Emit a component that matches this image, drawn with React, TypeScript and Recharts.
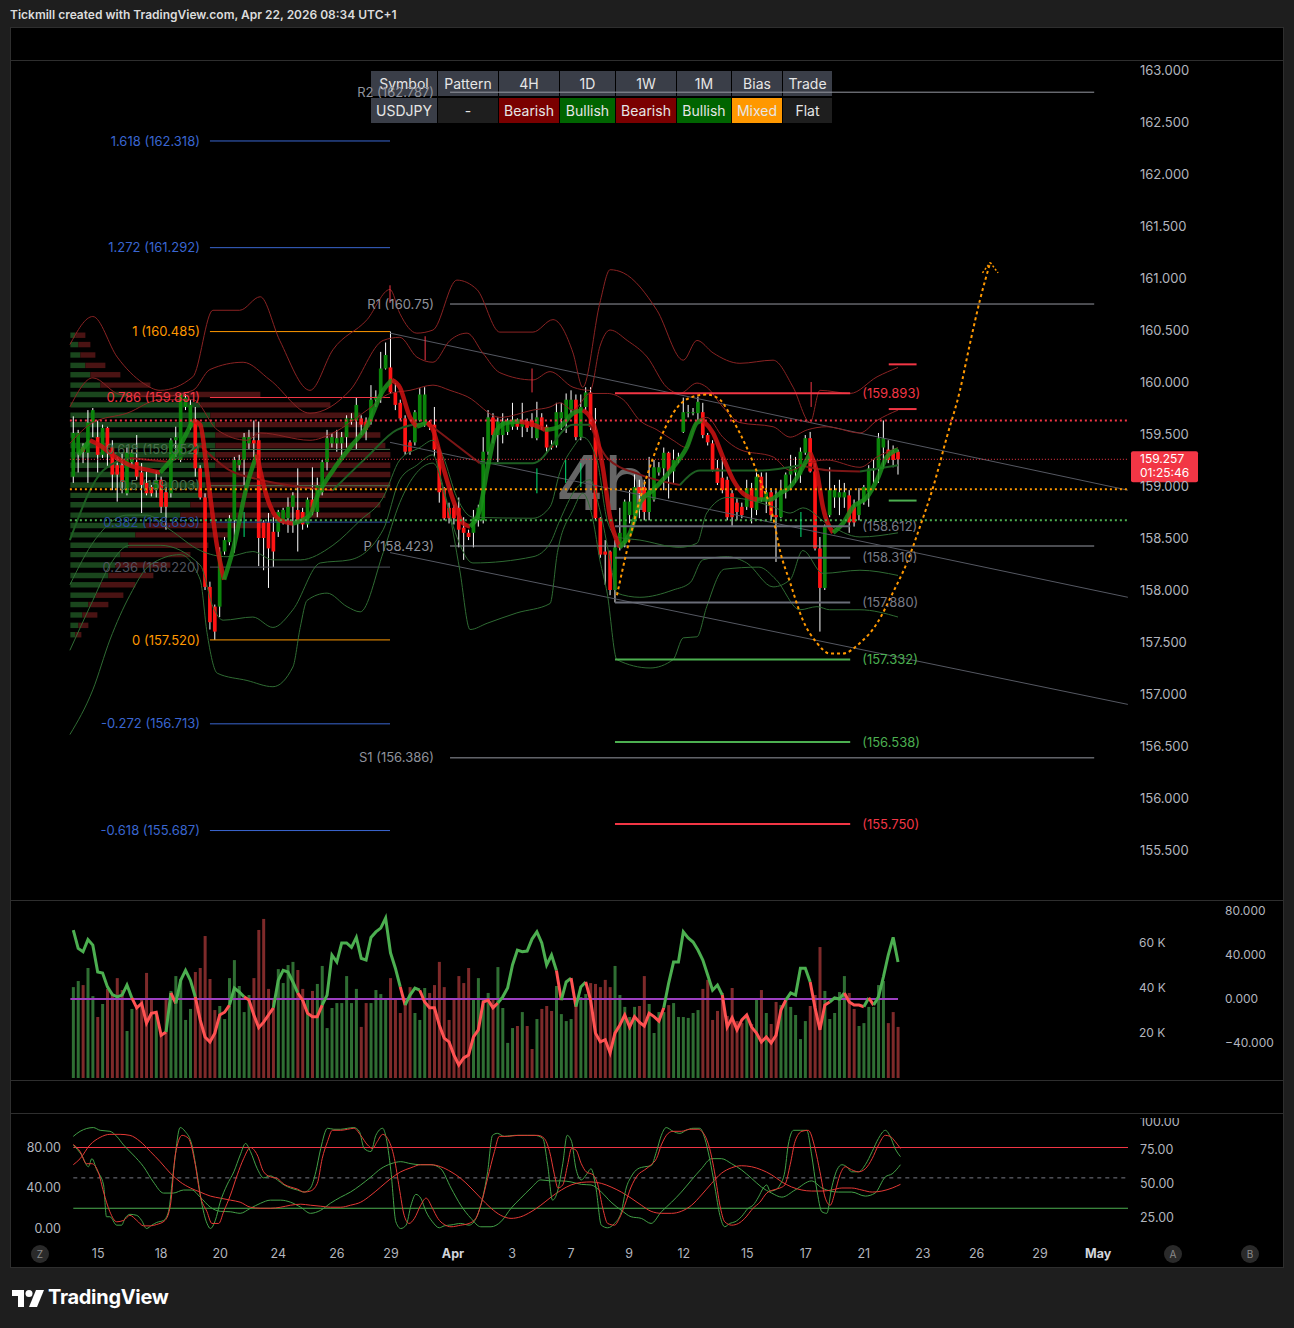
import React from 'react';
import {
  ComposedChart,
  Bar,
  Line,
  XAxis,
  YAxis,
  ReferenceLine,
  ReferenceArea,
  ReferenceDot,
  Cell,
} from 'recharts';

// USDJPY 4h candles, oldest first (13 Mar -> 22 Apr 2026)
const opens = [
  159.09, 159.32, 159.37, 159.32, 159.61, 159.47, 159.30, 159.56, 159.37, 159.20,
  159.20, 158.93, 159.23, 159.23, 159.13, 159.03, 158.99, 158.96, 159.06, 158.94,
  158.93, 159.44, 159.25, 159.76, 159.56, 159.63, 159.17, 158.89, 158.03, 157.84,
  157.84, 158.37, 158.46, 158.67, 159.20, 159.25, 159.41, 159.44, 159.44, 158.65,
  158.65, 158.56, 158.56, 158.65, 158.69, 158.80, 158.77, 158.75, 158.63, 158.87,
  158.75, 158.94, 159.23, 159.41, 159.41, 159.41, 159.47, 159.62, 159.63, 159.65,
  159.62, 159.62, 159.83, 159.86, 160.13, 160.14, 159.90, 159.80, 159.65, 159.42,
  159.42, 159.63, 159.59, 159.62, 159.59, 159.35, 158.98, 158.79, 158.79, 158.79,
  158.60, 158.55, 158.55, 158.67, 158.67, 159.33, 159.66, 159.49, 159.49, 159.52,
  159.57, 159.62, 159.57, 159.62, 159.63, 159.46, 159.66, 159.57, 159.39, 159.39,
  159.65, 159.65, 159.73, 159.83, 159.47, 159.76, 159.90, 159.54, 158.69, 158.37,
  158.37, 158.00, 158.41, 158.45, 158.72, 158.72, 158.99, 158.99, 158.75, 158.87,
  159.13, 159.17, 159.32, 159.14, 159.25, 159.52, 159.70, 159.70, 159.70, 159.71,
  159.49, 159.41, 159.17, 159.08, 159.06, 158.93, 158.84, 158.80, 158.80, 158.98,
  158.77, 159.09, 158.87, 158.94, 158.72, 158.70, 158.96, 159.11, 159.13, 159.11,
  159.32, 159.46, 159.14, 158.40, 158.02, 158.72, 158.89, 158.89, 158.89, 158.91,
  158.80, 158.72, 158.85, 158.94, 159.15, 159.17, 159.37, 159.35, 159.33, 159.33,
];
const highs = [
  159.67, 159.54, 159.41, 159.73, 159.75, 159.63, 159.59, 159.57, 159.44, 159.28,
  159.32, 159.37, 159.35, 159.49, 159.22, 159.14, 159.01, 159.14, 159.09, 158.99,
  159.46, 159.57, 159.89, 159.88, 159.83, 159.76, 159.20, 158.93, 158.08, 157.86,
  158.41, 158.51, 158.72, 159.28, 159.30, 159.51, 159.54, 159.63, 159.62, 158.67,
  158.74, 158.70, 158.77, 158.79, 158.89, 158.94, 159.17, 158.79, 158.89, 159.18,
  159.08, 159.25, 159.54, 159.51, 159.54, 159.52, 159.68, 159.70, 159.85, 159.68,
  159.66, 159.97, 159.92, 160.29, 160.38, 160.485, 159.99, 159.83, 159.68, 159.44,
  159.73, 159.94, 159.95, 159.63, 159.76, 159.37, 158.99, 158.84, 158.82, 158.89,
  158.70, 158.58, 158.77, 158.82, 159.47, 159.73, 159.70, 159.66, 159.70, 159.65,
  159.80, 159.65, 159.80, 159.65, 159.70, 159.81, 159.70, 159.59, 159.44, 159.80,
  159.80, 159.89, 159.92, 159.88, 159.88, 159.95, 159.95, 159.75, 158.70, 158.48,
  158.38, 158.48, 158.79, 158.87, 158.96, 159.11, 159.06, 159.06, 159.28, 159.25,
  159.23, 159.37, 159.33, 159.35, 159.32, 159.85, 159.78, 159.75, 159.86, 159.80,
  159.51, 159.44, 159.25, 159.28, 159.09, 158.96, 158.88, 158.84, 159.06, 159.03,
  159.13, 159.13, 159.13, 158.98, 158.96, 159.06, 159.13, 159.30, 159.28, 159.37,
  159.49, 159.52, 159.22, 158.51, 158.63, 159.18, 159.01, 159.06, 159.03, 158.96,
  158.87, 158.98, 159.01, 159.20, 159.25, 159.51, 159.63, 159.44, 159.39, 159.35,
];
const lows = [
  159.03, 159.13, 159.22, 159.03, 159.47, 159.13, 159.27, 159.18, 158.96, 158.85,
  158.93, 158.91, 159.20, 159.06, 158.74, 158.91, 158.90, 158.89, 158.74, 158.58,
  158.89, 159.28, 159.23, 159.73, 159.54, 159.09, 158.87, 158.00, 157.62, 157.52,
  157.74, 158.34, 158.43, 158.36, 159.15, 159.01, 159.35, 159.28, 158.23, 158.19,
  158.02, 158.22, 158.51, 158.63, 158.55, 158.55, 158.37, 158.58, 158.60, 158.72,
  158.70, 158.91, 159.15, 159.37, 159.33, 159.28, 159.37, 159.59, 159.35, 159.49,
  159.44, 159.59, 159.76, 159.80, 160.12, 159.89, 159.73, 159.63, 159.30, 159.30,
  159.39, 159.62, 159.57, 159.54, 159.28, 158.84, 158.67, 158.64, 158.63, 158.41,
  158.29, 158.48, 158.41, 158.61, 158.64, 159.30, 159.41, 159.23, 159.41, 159.49,
  159.54, 159.54, 159.47, 159.52, 159.46, 159.44, 159.54, 159.32, 159.35, 159.37,
  159.54, 159.51, 159.70, 159.44, 159.44, 159.73, 159.54, 158.67, 158.31, 158.05,
  157.95, 157.88, 158.38, 158.41, 158.64, 158.64, 158.69, 158.67, 158.67, 158.85,
  159.10, 158.96, 158.88, 159.03, 159.22, 159.51, 159.66, 159.68, 159.63, 159.46,
  159.39, 159.14, 159.01, 158.93, 158.67, 158.61, 158.67, 158.69, 158.77, 158.64,
  158.72, 158.85, 158.74, 158.67, 158.27, 158.69, 158.88, 158.96, 159.03, 159.03,
  159.30, 159.13, 158.38, 157.60, 158.00, 158.70, 158.79, 158.72, 158.79, 158.55,
  158.61, 158.67, 158.82, 158.80, 159.03, 159.03, 159.17, 159.22, 159.18, 159.11,
];
const closes = [
  159.51, 159.51, 159.33, 159.61, 159.73, 159.30, 159.56, 159.37, 159.11, 159.11,
  159.04, 159.32, 159.32, 159.09, 159.01, 158.93, 158.93, 159.06, 158.80, 158.80,
  159.44, 159.47, 159.88, 159.85, 159.78, 159.17, 158.89, 158.03, 157.69, 157.60,
  158.37, 158.48, 158.69, 159.25, 159.25, 159.47, 159.47, 159.41, 158.50, 158.50,
  158.40, 158.37, 158.75, 158.77, 158.80, 158.91, 158.64, 158.63, 158.87, 158.75,
  159.01, 159.23, 159.46, 159.47, 159.46, 159.47, 159.65, 159.65, 159.78, 159.59,
  159.54, 159.83, 159.86, 160.13, 160.26, 159.90, 159.78, 159.65, 159.33, 159.33,
  159.71, 159.88, 159.88, 159.57, 159.35, 158.94, 158.69, 158.69, 158.69, 158.58,
  158.55, 158.51, 158.69, 158.79, 159.33, 159.66, 159.49, 159.62, 159.62, 159.62,
  159.62, 159.57, 159.62, 159.56, 159.57, 159.66, 159.57, 159.37, 159.37, 159.71,
  159.71, 159.83, 159.83, 159.47, 159.76, 159.90, 159.57, 158.69, 158.34, 158.34,
  158.00, 158.41, 158.55, 158.85, 158.85, 158.99, 158.93, 158.75, 158.96, 159.18,
  159.18, 159.32, 159.14, 159.25, 159.28, 159.71, 159.71, 159.71, 159.81, 159.49,
  159.42, 159.15, 159.03, 158.96, 158.70, 158.70, 158.75, 158.72, 158.98, 158.79,
  159.09, 158.87, 158.94, 158.72, 158.70, 158.96, 159.11, 159.17, 159.17, 159.33,
  159.46, 159.14, 158.40, 158.02, 158.61, 158.96, 158.96, 158.94, 158.94, 158.65,
  158.65, 158.85, 158.99, 159.17, 159.17, 159.46, 159.46, 159.25, 159.25, 159.257,
];

// volume per candle, thousands
const volumesK = [
  40.4, 43.1, 41.3, 48.9, 36.4, 27.1, 32.9, 39.6, 36.9, 44.4,
  39.1, 20.9, 30.7, 31.6, 35.1, 46.7, 34.7, 28.9, 20.0, 34.7,
  38.7, 45.3, 44.0, 25.8, 30.7, 47.1, 48.9, 63.1, 44.0, 30.2,
  32.0, 26.2, 44.4, 52.4, 40.9, 29.3, 36.9, 44.4, 65.8, 70.7,
  39.6, 34.7, 48.4, 42.2, 50.2, 51.6, 48.0, 39.6, 35.1, 38.7,
  41.8, 49.8, 22.2, 31.1, 33.3, 33.3, 45.3, 33.3, 39.6, 22.7,
  33.3, 33.3, 39.1, 37.3, 34.7, 44.4, 34.7, 28.9, 33.8, 40.4,
  28.9, 25.8, 40.0, 37.8, 41.3, 51.6, 40.4, 25.8, 35.1, 45.3,
  42.2, 48.9, 34.7, 44.4, 34.7, 37.8, 34.7, 49.3, 31.1, 15.6,
  22.2, 23.1, 29.3, 23.1, 12.9, 26.2, 30.7, 32.0, 29.8, 40.9,
  28.4, 25.3, 26.2, 31.6, 36.0, 37.3, 42.2, 41.8, 40.4, 43.6,
  40.4, 49.8, 36.9, 31.6, 27.1, 31.6, 32.0, 45.3, 32.9, 20.0,
  29.3, 29.3, 32.4, 33.3, 27.1, 27.1, 26.7, 28.9, 30.2, 39.6,
  43.6, 25.8, 29.8, 37.8, 27.6, 40.0, 25.3, 24.4, 27.6, 24.0,
  35.1, 39.1, 28.9, 24.0, 33.8, 32.4, 35.6, 31.6, 28.0, 17.3,
  25.3, 32.0, 36.9, 58.2, 38.7, 26.2, 28.9, 38.2, 45.3, 37.8,
  30.7, 23.1, 24.4, 31.6, 31.6, 41.3, 43.1, 24.4, 29.3, 22.7,
];

// oscillator drawn over the volume pane
const oscValues = [
  62.7, 46, 43, 54, 49, 24.5, 23.6, 11, 4, 2,
  3.6, 12.7, 1, -8, -4, -22, -13, -12, -33, -30,
  5.5, -4, 17, 26, 17, 2, -19, -34.5, -39, -31,
  -14.5, -12, -5.5, 10, 6.4, 2, -1, -14.5, -26, -21,
  -14.5, -8, 17, 26, 24.5, 15.5, 5.5, -1, -13, -16,
  -16, -5.5, 3.6, 40, 33.6, 51, 51, 47, 56, 37,
  35.5, 56, 61, 64.5, 73.6, 42, 28, 11, -5.5, 3.6,
  10, 8, -2.7, -8, -8, -23.6, -35.5, -39, -51, -60,
  -53.6, -51, -34.5, -28, -2.7, -1, -8, -3.6, 2, 10,
  31, 44.5, 43, 43.6, 54.5, 61, 51, 31, 40, 26,
  -1, 15.5, 19, -7, 11, 15.5, -1, -31, -39, -37,
  -49, -31, -23.6, -14.5, -25.5, -16, -21, -24.5, -13, -16,
  -20, -8, 14.5, 33.6, 33.6, 61, 55.5, 51.8, 44.5, 35.5,
  21.8, 8, 12.7, 3.6, -25.5, -17, -28, -19, -14.5, -25.5,
  -31, -39, -34.5, -40, -33, -10, -1, 5.5, 3.6, 28,
  28, 15.5, -8, -28, -5.5, -2.7, 1, 0, 5.5, -2.7,
  -5.5, -5.5, -7, 1, -5.5, 2, 20, 40, 56, 33.6,
];

// overlays: [candle index, price]
const maPoints = [
  [1.0, 159.30], [3.4, 159.44], [5.5, 159.39], [8.6, 159.28], [11.6, 159.20], [15.7, 159.15],
  [17.8, 159.13], [20.8, 159.30], [24.5, 159.63], [26.0, 159.59], [27.6, 159.06], [29.5, 158.41],
  [30.9, 158.10], [32.7, 158.38], [35.6, 159.01], [37.6, 159.30], [39.7, 158.89], [42.4, 158.67],
  [45.0, 158.64], [48.5, 158.72], [49.9, 158.89], [53.2, 159.15], [56.7, 159.37], [60.1, 159.57],
  [63.5, 159.92], [65.3, 160.02], [66.9, 159.95], [69.0, 159.66], [70.4, 159.57], [72.5, 159.61],
  [73.7, 159.54], [75.8, 159.18], [77.8, 158.87], [79.9, 158.64], [81.3, 158.61], [83.3, 158.77],
  [84.8, 159.15], [86.8, 159.54], [88.9, 159.61], [91.5, 159.62], [94.2, 159.59], [96.7, 159.54],
  [99.7, 159.57], [102.4, 159.70], [104.4, 159.73], [106.5, 159.61], [108.5, 159.18], [110.0, 158.70],
  [112.0, 158.41], [114.1, 158.55], [116.1, 158.84], [118.8, 158.96], [120.8, 159.06], [122.9, 159.18],
  [125.7, 159.37], [127.8, 159.61], [129.0, 159.63], [131.1, 159.51], [133.1, 159.28], [135.2, 159.06],
  [137.2, 158.93], [140.1, 158.87], [142.8, 158.87], [144.8, 158.93], [146.9, 158.99], [149.5, 159.18],
  [151.0, 159.32], [152.4, 159.13], [153.6, 158.80], [155.7, 158.55], [157.7, 158.64], [159.8, 158.80],
  [162.6, 158.89], [164.7, 159.06], [166.7, 159.28], [169.0, 159.35],
];
const basisPoints = [
  [-0.7, 158.48], [6.1, 159.15], [11.6, 159.27], [19.8, 159.23], [26.0, 159.39], [32.1, 159.15],
  [38.3, 159.06], [46.5, 158.99], [53.2, 158.96], [60.2, 159.28], [66.3, 159.54], [72.5, 159.61],
  [77.2, 159.44], [83.3, 159.22], [94.2, 159.22], [102.4, 159.59], [105.9, 159.59], [109.4, 159.27],
  [116.1, 159.11], [124.3, 159.01], [128.4, 159.15], [134.6, 159.15], [140.7, 159.15], [148.9, 159.20],
  [155.0, 159.15], [161.2, 159.14], [169.0, 159.20],
];
const upperBand3 = [
  [-0.7, 160.36], [4.0, 160.63], [9.0, 160.24], [14.3, 159.99], [17.8, 159.92], [24.5, 160.05],
  [28.6, 160.69], [34.1, 160.69], [38.3, 160.82], [42.3, 160.40], [48.5, 159.92], [53.2, 160.31],
  [60.2, 160.60], [64.9, 160.89], [66.9, 160.66], [70.4, 160.47], [73.7, 160.50], [78.6, 160.98],
  [82.7, 160.89], [87.4, 160.48], [94.2, 160.48], [98.3, 160.60], [102.4, 160.28], [104.4, 159.95],
  [107.9, 160.76], [110.0, 161.08], [112.7, 161.05], [119.6, 160.69], [125.0, 160.21], [127.8, 160.40],
  [131.1, 160.28], [136.6, 160.18], [143.4, 160.21], [147.5, 159.95], [151.0, 159.61], [153.0, 159.92],
  [159.2, 159.89], [164.7, 160.05], [169.0, 160.14],
];
const upperBand2 = [
  [-0.7, 159.76], [4.0, 160.04], [9.6, 159.88], [17.8, 159.86], [24.5, 159.92], [28.0, 160.12],
  [34.8, 160.19], [40.3, 160.02], [48.5, 159.70], [56.7, 159.92], [63.5, 160.40], [66.9, 160.43],
  [70.4, 160.24], [73.7, 160.19], [77.2, 160.40], [80.7, 160.47], [83.9, 160.28], [87.4, 160.09],
  [94.2, 160.02], [97.7, 160.10], [102.4, 159.95], [105.9, 159.92], [107.9, 160.34], [110.0, 160.50],
  [113.5, 160.40], [117.6, 160.24], [121.6, 159.95], [124.3, 159.89], [127.8, 159.99], [129.8, 159.95],
  [133.1, 159.76], [136.6, 159.61], [143.4, 159.57], [146.9, 159.47], [150.4, 159.54], [154.4, 159.57],
  [161.2, 159.51], [164.7, 159.63], [169.0, 159.73],
];
const upperBand1 = [
  [-0.7, 159.41], [4.0, 159.61], [11.0, 159.70], [17.8, 159.83], [24.5, 159.83], [29.5, 159.54],
  [35.6, 159.44], [38.3, 159.51], [48.5, 159.44], [53.2, 159.51], [60.2, 159.73], [64.9, 159.89],
  [69.0, 159.92], [73.7, 159.97], [77.2, 159.92], [80.7, 159.86], [87.4, 159.66], [94.2, 159.73],
  [97.7, 159.76], [99.7, 159.80], [102.4, 159.73], [105.9, 159.89], [109.4, 159.89], [112.7, 159.83],
  [116.1, 159.63], [119.6, 159.54], [122.9, 159.44], [125.7, 159.37], [127.8, 159.63], [129.8, 159.66],
  [133.1, 159.47], [136.6, 159.35], [143.4, 159.28], [146.9, 159.15], [150.4, 159.22], [154.4, 159.25],
  [161.2, 159.18], [164.7, 159.28], [169.0, 159.37],
];
const lowerBand1 = [
  [-0.7, 158.05], [4.4, 158.48], [11.0, 158.72], [15.1, 158.72], [19.8, 158.58], [26.0, 158.38],
  [31.5, 158.32], [36.8, 158.37], [40.9, 158.29], [46.5, 158.29], [53.2, 158.43], [58.8, 158.67],
  [63.5, 158.89], [66.9, 159.25], [71.0, 159.37], [73.7, 159.44], [75.8, 159.28], [78.6, 158.89],
  [81.9, 158.70], [94.2, 158.69], [97.7, 158.80], [99.7, 159.13], [102.4, 159.37], [104.4, 159.47],
  [107.3, 159.25], [109.4, 158.67], [111.4, 158.51], [116.1, 158.48], [124.3, 158.41], [127.8, 158.45],
  [129.8, 158.74], [134.0, 158.89], [138.0, 158.87], [143.4, 158.80], [146.9, 158.74], [149.5, 158.79],
  [154.4, 158.64], [161.2, 158.51], [169.0, 158.55],
];
const lowerBand2 = [
  [-0.7, 157.42], [4.0, 157.90], [7.5, 158.24], [11.6, 158.43], [17.8, 158.43], [26.0, 158.24],
  [28.6, 157.84], [30.7, 157.71], [36.8, 157.74], [40.9, 157.64], [45.0, 157.81], [50.6, 158.26],
  [56.7, 158.29], [63.5, 158.58], [66.9, 159.06], [70.4, 159.20], [73.7, 159.30], [75.8, 158.96],
  [78.6, 158.51], [81.9, 158.26], [94.2, 158.32], [97.7, 158.45], [99.7, 158.67], [102.8, 158.96],
  [105.9, 159.06], [107.9, 158.77], [110.0, 158.29], [111.4, 157.97], [116.1, 157.93], [122.9, 158.00],
  [126.4, 158.07], [129.0, 158.29], [134.0, 158.32], [138.0, 158.26], [143.4, 158.03], [146.9, 158.10],
  [149.5, 158.38], [153.6, 158.16], [161.2, 158.19], [169.0, 158.14],
];
const lowerBand3 = [
  [-0.7, 156.61], [4.0, 157.04], [7.5, 157.52], [11.6, 157.95], [15.7, 158.24], [21.9, 158.34],
  [26.0, 158.10], [27.4, 157.59], [29.5, 157.20], [35.6, 157.13], [40.9, 157.07], [45.0, 157.26],
  [46.5, 157.64], [47.9, 157.90], [52.0, 157.97], [56.1, 157.84], [58.8, 157.79], [63.5, 158.36],
  [66.9, 158.84], [70.4, 159.13], [73.7, 159.22], [76.6, 158.84], [79.2, 158.19], [81.3, 157.62],
  [84.8, 157.68], [90.9, 157.78], [97.7, 157.87], [99.2, 158.36], [102.4, 158.77], [104.4, 158.93],
  [106.5, 158.67], [107.9, 158.29], [109.4, 157.97], [111.4, 157.33], [118.2, 157.25], [122.9, 157.33],
  [125.0, 157.54], [127.8, 157.55], [129.8, 157.84], [133.4, 158.20], [140.5, 158.22], [144.0, 158.10],
  [148.9, 157.81], [152.4, 157.84], [155.0, 157.81], [161.2, 157.81], [169.0, 157.74],
];
const projectionPath = [
  [111.4, 157.95], [113.7, 158.43], [116.1, 158.87], [119.6, 159.37], [122.9, 159.70], [126.4, 159.85],
  [129.8, 159.88], [132.5, 159.83], [135.2, 159.63], [138.0, 159.37], [140.7, 159.06], [143.4, 158.70],
  [144.8, 158.38], [146.9, 158.07], [149.5, 157.71], [152.4, 157.49], [155.0, 157.39], [157.7, 157.39],
  [161.2, 157.49], [164.7, 157.68], [167.9, 157.97], [170.8, 158.26], [173.5, 158.61], [176.2, 158.99],
  [179.0, 159.47], [181.7, 159.92], [183.7, 160.36], [185.8, 160.79], [187.9, 161.15],
];
const arrowHead = [[186.3, 161.05], [187.9, 161.15], [189.5, 161.05]];
const channelLines = [
  [[64.9, 160.47], [216.1, 158.96]],
  [[64.9, 159.42], [216.1, 157.93]],
  [[64.9, 158.36], [216.1, 156.90]],
];

// fibonacci retracement (anchored 157.520 -> 160.485)
const fibRatios = ['1.618', '1.272', '1', '0.786', '0.618', '0.5', '0.382', '0.236', '0', '-0.272', '-0.618'];
const fibPrices = [162.318, 161.292, 160.485, 159.851, 159.352, 159.003, 158.653, 158.22, 157.52, 156.713, 155.687];
const fibSpan = [28.0, 64.9];
// pivots
const pivotNames = ['R2', 'R1', 'P', 'S1'];
const pivotPrices = [162.787, 160.75, 158.423, 156.386];
const pivotSpan = [77.2, 209.2];
// right hand levels
const levelPrices = [159.893, 158.612, 158.31, 157.88, 157.332, 156.538, 155.75];
const levelSpan = [111.0, 159.2];
const stubPrices = [160.17, 159.74, 158.86];
const stubSpan = [167.1, 172.8];
const dottedPrices = [159.63, 159.257, 158.97, 158.67];
const redMarks = [[64.9, 160.76, 160.93], [72.1, 160.21, 160.44], [94.0, 159.90, 160.13], [151.2, 159.76, 160.0]];
const tealMarks = [[35.0, 158.51, 158.75], [95.0, 158.93, 159.17], [100.9, 159.03, 159.25], [104.0, 158.99, 159.22], [149.1, 158.51, 158.75]];

// volume profile rows (price, buy volume, sell volume)
const profilePrices = [160.45, 160.36, 160.26, 160.16, 160.07, 159.97, 159.88, 159.78, 159.68, 159.59, 159.49, 159.39, 159.30, 159.20, 159.11, 159.01, 158.91, 158.82, 158.72, 158.62, 158.53, 158.43, 158.34, 158.24, 158.14, 158.05, 157.95, 157.86, 157.76, 157.66, 157.57];
const profileBuy = [5, 8, 10, 15, 20, 30, 60, 130, 140, 145, 145, 145, 145, 145, 140, 135, 130, 120, 110, 75, 65, 58, 50, 45, 38, 30, 25, 18, 12, 8, 5];
const profileSell = [10, 12, 15, 20, 30, 50, 130, 130, 150, 155, 165, 170, 175, 175, 180, 185, 185, 190, 190, 120, 95, 80, 70, 55, 45, 35, 28, 20, 15, 10, 6];

// stochastic pane: [candle index, value]
const stochFastK = [
  [0, 82.5], [1.7, 72.6], [3.1, 61], [3.8, 69], [4.8, 58], [6.2, 43], [6.8, 11.6], [7.5, 11.6], [8.9, 3.3], [9.9, 3.3],
  [10.6, 10], [11.6, 14], [13, 13], [14, 8], [15, 0], [16.1, 3.3], [17.1, 6], [18.5, 8], [19.5, 16.5], [20.5, 56],
  [21.9, 99.7], [22.9, 96], [24.3, 82.5], [25.3, 56], [26.4, 23], [27.4, 5], [28.1, 0], [29.1, 8], [30.1, 26], [31.5, 43],
  [32.9, 56], [34.2, 72.6], [35.3, 84], [36.3, 76], [37.7, 59], [39, 50], [40.4, 52], [41.8, 48], [43.2, 43], [44.5, 40],
  [45.9, 38], [47.3, 36], [48.6, 40], [49.7, 56], [50.7, 79], [52.1, 99], [53.4, 98], [54.8, 98], [56.2, 99], [57.5, 99.7],
  [58.6, 96], [59.6, 79], [61, 76], [62, 92], [63.4, 99], [64, 92], [65.1, 56], [66.1, 6.6], [67.1, 0], [68.2, 3.3],
  [69.2, 23], [70.2, 33.7], [71.2, 30], [72.3, 16.5], [73.6, 6.6], [75, 0.7], [76, 2.6], [77.4, 3.5], [79.4, 5], [81.1, 3.3],
  [82.1, 6.6], [83.5, 23], [84.9, 56], [85.9, 92], [86.9, 94], [88.3, 91], [90.4, 92], [92.4, 92], [94.5, 92], [96.2, 89],
  [97.2, 63], [98.2, 28], [99.3, 38], [100.3, 64], [101.2, 92], [102.1, 86], [103, 59], [104.1, 48], [105.1, 53], [106.1, 59],
  [107.1, 40], [108.2, 3.3], [109.5, 0.7], [110.9, 5], [112.3, 16.5], [113.3, 40], [114.3, 51], [115.7, 59], [117.1, 61], [118.4, 62],
  [119.5, 76], [120.5, 92], [121.5, 99.7], [122.9, 96], [124.3, 94], [125.6, 97], [127, 99], [128.4, 99], [129.4, 89], [130.4, 69],
  [131.5, 40], [132.5, 13], [133.5, 1.7], [134.5, 5], [135.6, 6.6], [136.9, 11.6], [138.3, 20], [139.3, 23], [140.4, 31], [141.4, 40],
  [142.1, 43], [142.8, 37], [143.8, 38], [144.8, 43], [145.8, 56], [146.5, 82.5], [147.6, 97], [149, 97], [150.3, 97], [151.3, 72.6],
  [152.3, 40], [153.4, 16.5], [154.4, 15], [155.4, 40], [156.5, 58], [157.5, 63], [158.5, 61], [159.5, 56], [160.9, 56], [162.3, 63],
  [163.7, 76], [165, 89], [166.4, 97], [167.4, 91], [168.4, 79], [169.5, 71],
];
const stochFastD = [
  [0, 83], [1.4, 76], [2.7, 64], [3.8, 64], [5.1, 56], [6.2, 36], [7.5, 16.5], [8.9, 6.6], [10.3, 8], [11.6, 13],
  [13, 8], [14.4, 2.6], [15.8, 2.6], [17.1, 4], [18.8, 8], [19.9, 23], [20.9, 72.6], [22.3, 92], [23.6, 89], [25, 63],
  [26, 33], [27.4, 16.5], [28.4, 5], [29.8, 5], [30.8, 16.5], [32.2, 33], [33.6, 53], [34.9, 69], [36.3, 80], [37.7, 72.6],
  [39, 56], [40.4, 51], [41.8, 49.5], [43.2, 43.6], [44.5, 41], [45.9, 39], [47.3, 36], [48.6, 37], [50, 44.6], [51, 69],
  [52.1, 86], [53.1, 97], [54.8, 97], [56.2, 98], [57.5, 99], [58.9, 92], [60.3, 82.5], [61.3, 79], [62.3, 86], [63.4, 93],
  [64.4, 89], [65.8, 69], [66.8, 40], [67.8, 13], [68.8, 5], [69.9, 10], [71.2, 23], [72.3, 30], [73.6, 20], [74.7, 10],
  [76, 4], [77.4, 1.7], [79.4, 3.3], [81.1, 5], [82.5, 10], [83.5, 23], [84.9, 49.5], [86.3, 76], [87.3, 91], [89, 91],
  [91.1, 92], [93.1, 92], [95.2, 92], [96.5, 89], [97.6, 76], [98.6, 53], [99.3, 40], [100.3, 43], [101.3, 63], [102.1, 79],
  [103, 77.5], [104.1, 64], [105.1, 56], [106.5, 53], [107.5, 43], [108.5, 20], [109.5, 5], [110.9, 3.3], [111.9, 10], [113, 23],
  [114.3, 41], [115.7, 53], [117.1, 58], [118.4, 63], [119.5, 69], [120.5, 82.5], [121.9, 94], [122.9, 96], [124.6, 96], [126.3, 98],
  [128, 98], [129.4, 92], [130.4, 79], [131.5, 53], [132.5, 23], [133.5, 6.6], [134.9, 3.3], [136.3, 5], [137.6, 10], [139.3, 20],
  [140.7, 26], [142.1, 35], [143.4, 38], [144.8, 40], [145.8, 43], [146.9, 63], [147.9, 86], [149.3, 96], [150.6, 97], [152, 79],
  [153, 56], [154.1, 30], [155.1, 23], [156.1, 36], [157.1, 53], [158.2, 61], [159.5, 58], [160.9, 56], [162.3, 59], [163.7, 69],
  [165, 82.5], [166.4, 92], [167.4, 91], [168.4, 86], [169.5, 79],
];
const stochSlowK = [
  [0, 91], [1.4, 96], [4.1, 99.7], [5.5, 97], [7.5, 96], [8.9, 91], [10.3, 82.5], [12.3, 72.6], [14.4, 61], [16.4, 46],
  [18.5, 35], [20.5, 35], [22.6, 38], [24.3, 38], [26, 31], [28.1, 21], [30.1, 17], [32.2, 16.5], [34.2, 15], [36.3, 20],
  [38.4, 25], [40.4, 28], [42.5, 28], [44.5, 26], [46.6, 21], [48.6, 15], [50.7, 18], [52.7, 25], [54.8, 31], [56.8, 36],
  [58.9, 43], [61, 51], [63, 59], [65.1, 64], [67.1, 66], [69.2, 64], [71.2, 63], [73.3, 63], [75.3, 59], [77.4, 40],
  [79.4, 23], [81.5, 10], [83.5, 1.7], [85.6, 1.7], [87.6, 6.6], [89.7, 20], [91.7, 30], [93.8, 40], [95.8, 48], [97.9, 47],
  [100, 47], [102, 46], [104.1, 43.6], [106.1, 43], [108.2, 36], [110.2, 26], [112.3, 18], [114.3, 11.6], [116.4, 10], [118.4, 5],
  [120.5, 16.5], [122.6, 26], [124.6, 36], [126.7, 48], [128.7, 59], [130.8, 69], [132.8, 69], [134.9, 64], [136.9, 58], [139, 49.5],
  [141, 41], [143.1, 35], [145.2, 31], [147.9, 38], [151.3, 47], [153.4, 40], [156.8, 36], [159.5, 36], [162.3, 32], [164.3, 35],
  [166.4, 51], [167.8, 54], [169.5, 63],
];
const stochSlowD = [
  [0, 63], [1.4, 69], [3.4, 82.5], [5.5, 90], [7.5, 93], [9.6, 93], [11.6, 92], [13.7, 86], [15.8, 76], [17.8, 66],
  [19.9, 54.5], [21.9, 46], [24, 40], [26, 36], [28.1, 32], [30.1, 30], [32.2, 28], [34.2, 26], [36.3, 21], [38.4, 20],
  [40.4, 20], [42.5, 21], [44.5, 23], [46.6, 24], [48.6, 23], [50.7, 22], [52.7, 21], [54.8, 21], [56.8, 23], [58.9, 26],
  [61, 33], [63, 41], [65.1, 49.5], [67.1, 56], [69.2, 60], [71.2, 63], [73.3, 63], [75.3, 61], [77.4, 56], [79.4, 49.5],
  [81.5, 40], [83.5, 30], [85.6, 20], [87.6, 13], [89.7, 10], [91.7, 11.6], [93.8, 16.5], [95.8, 23], [97.9, 31], [100, 38],
  [102, 43], [104.1, 45.5], [106.1, 46], [108.2, 44.6], [110.2, 41], [112.3, 36], [114.3, 30], [116.4, 23], [118.4, 17], [120.5, 15],
  [122.6, 15], [124.6, 17], [126.7, 23], [128.7, 33], [130.8, 44.6], [132.8, 54.5], [134.9, 60], [136.9, 62], [139, 61], [141, 58],
  [143.1, 53], [145.2, 46], [147.2, 41], [149.3, 38], [151.3, 37], [153.4, 37], [155.4, 38], [157.5, 40], [159.5, 40], [161.6, 38],
  [163.7, 36], [165.7, 37], [167.8, 40], [169.5, 43.6],
];

// time axis
const timeTickPos = [5.1, 18.0, 30.1, 42.0, 54.0, 65.1, 77.8, 89.9, 102.0, 113.9, 125.1, 138.1, 150.1, 162.0, 174.1, 185.1, 198.1, 210.0];
const timeTickLabels = ['15', '18', '20', '24', '26', '29', 'Apr', '3', '7', '9', '12', '15', '17', '21', '23', '26', '29', 'May'];

const priceTicks = [155.5, 156, 156.5, 157, 157.5, 158, 158.5, 159, 159.5, 160, 160.5, 161, 161.5, 162, 162.5, 163];

const tableHead = ['Symbol', 'Pattern', '4H', '1D', '1W', '1M', 'Bias', 'Trade'];
const tableRow = ['USDJPY', '-', 'Bearish', 'Bullish', 'Bearish', 'Bullish', 'Mixed', 'Flat'];

// ---------- layout / style ----------
const FONT = "Inter, 'Noto Sans', 'DejaVu Sans', sans-serif";
const AXIS_TEXT = '#b2b5be';
const UP = '#0b840b';
const DOWN = '#ff1414';
const PX_FIRST = 73.3; // where candle 0 sits on the page
const PX_STEP = 4.88;
const idxAt = (px: number) => (px - PX_FIRST) / PX_STEP;
const mainXDomain = [idxAt(12), idxAt(1128)];
const stochXDomain = [idxAt(72), idxAt(1128)];
const priceDomain = [155.019, 163.087];
const PROFILE_ORIGIN = -0.6;
const PROFILE_SCALE = 1 / PX_STEP;

const fibColors = ['#3a66d0', '#3a66d0', '#ff9800', '#f23645', '#4a6f4c', '#4a6f4c', '#2a4c9a', '#50535e', '#ff9800', '#3a66d0', '#3a66d0'];
const levelColors = ['#f23645', '#6a6d78', '#6a6d78', '#6a6d78', '#4caf50', '#4caf50', '#f23645'];
const levelText = ['#f23645', '#787b86', '#787b86', '#787b86', '#4caf50', '#4caf50', '#f23645'];
const stubColors = ['#f23645', '#f23645', '#4caf50'];
const dottedStyle = [
  { c: '#f23645', w: 2, d: '2 3' },
  { c: '#f23645', w: 1, d: '1 2' },
  { c: '#ff9800', w: 2, d: '2 3' },
  { c: '#4caf50', w: 2, d: '2 3' },
];
const tableWidths = [66, 60, 60, 55, 60, 54, 50, 49];
const rowBgs = ['#3a3e48', '#1e1e1e', '#7a0000', '#006400', '#7a0000', '#006400', '#ff9800', '#1e1e1e'];

const candles = closes.map((c, i) => ({
  x: i,
  open: opens[i],
  close: c,
  high: Math.max(highs[i], opens[i], c),
  low: Math.min(lows[i], opens[i], c),
  vol: volumesK[i],
  osc: oscValues[i],
}));

const toXY = (pts: number[][]) => pts.map(([x, v]) => ({ x, v }));

function colorRuns(pts: number[][], pick: (a: number[], b: number[]) => string) {
  const runs: { color: string; data: { x: number; v: number }[] }[] = [];
  for (let k = 0; k < pts.length - 1; k++) {
    const c = pick(pts[k], pts[k + 1]);
    const last = runs[runs.length - 1];
    if (last && last.color === c) last.data.push({ x: pts[k + 1][0], v: pts[k + 1][1] });
    else runs.push({ color: c, data: [{ x: pts[k][0], v: pts[k][1] }, { x: pts[k + 1][0], v: pts[k + 1][1] }] });
  }
  return runs;
}

const maRuns = colorRuns(maPoints, (a, b) => (b[1] >= a[1] ? '#1a8f1a' : '#d01212'));
const basisRuns = colorRuns(basisPoints, (a, b) => (b[1] >= a[1] ? '#1d5e22' : '#7c1616'));
const oscRuns = colorRuns(oscValues.map((v, i) => [i, v]), (_a, b) => (b[1] >= 0 ? '#4caf50' : '#ff5252'));

const CandleShape = (props: any) => {
  const { x, y, width, height, payload } = props;
  if (x == null || y == null || !payload) return null;
  const top = Math.min(y, y + height);
  const h = Math.abs(height);
  const span = payload.high - payload.low;
  const k = span > 0 ? h / span : 0;
  const cx = x + width / 2;
  const up = payload.close >= payload.open;
  const bTop = top + (payload.high - Math.max(payload.open, payload.close)) * k;
  const bBot = top + (payload.high - Math.min(payload.open, payload.close)) * k;
  const bw = 3.7;
  return (
    <g>
      <line x1={cx} x2={cx} y1={top} y2={top + h} stroke="#ffffff" strokeWidth={1} />
      <rect x={cx - bw / 2} y={bTop} width={bw} height={Math.max(bBot - bTop, 1)} fill={up ? UP : DOWN} />
    </g>
  );
};

const PriceTag = (props: any) => {
  const vb = props.viewBox || {};
  const x = (vb.x || 0) + (vb.width || 0) + 2;
  const cy = (vb.y || 0) + (vb.height || 0) / 2;
  return (
    <g>
      <rect x={x} y={cy - 8} width={67} height={31} rx={2} fill="#f23645" />
      <text x={x + 9} y={cy + 4} fill="#fff" fontSize={12}>{closes[closes.length - 1].toFixed(3)}</text>
      <text x={x + 9} y={cy + 18} fill="#fff" fontSize={12}>01:25:46</text>
    </g>
  );
};

const TimeTick = (props: any) => {
  const { x, y, payload } = props;
  const i = timeTickPos.indexOf(payload.value);
  const label = timeTickLabels[i] ?? '';
  const bold = label === 'Apr' || label === 'May';
  return (
    <text x={x} y={y + 18} textAnchor="middle" fill={bold ? '#d1d4dc' : AXIS_TEXT} fontSize={12.5} fontWeight={bold ? 700 : 400}>
      {label}
    </text>
  );
};

const flat = (xa: number, xb: number, y: number) => [{ x: xa, y }, { x: xb, y }];

function MainChart() {
  return (
    <ComposedChart width={1272} height={839} data={candles} margin={{ top: 0, right: 0, bottom: 0, left: 0 }}>
      <XAxis type="number" dataKey="x" domain={mainXDomain} allowDataOverflow hide />
      <YAxis
        orientation="right"
        width={156}
        domain={priceDomain}
        allowDataOverflow
        ticks={priceTicks}
        tickFormatter={(v: number) => v.toFixed(3)}
        tick={{ fill: AXIS_TEXT, fontSize: 13 }}
        axisLine={false}
        tickLine={false}
        tickSize={0}
        tickMargin={12}
      />

      {profilePrices.map((p, i) => (
        <ReferenceArea key={`pb${i}`} x1={PROFILE_ORIGIN} x2={PROFILE_ORIGIN + profileBuy[i] * PROFILE_SCALE} y1={p - 0.026} y2={p + 0.026} fill="#1b4a1f" fillOpacity={0.95} stroke="none" />
      ))}
      {profilePrices.map((p, i) => (
        <ReferenceArea key={`ps${i}`} x1={PROFILE_ORIGIN + profileBuy[i] * PROFILE_SCALE} x2={PROFILE_ORIGIN + (profileBuy[i] + profileSell[i]) * PROFILE_SCALE} y1={p - 0.026} y2={p + 0.026} fill="#4e1414" fillOpacity={0.95} stroke="none" />
      ))}

      {fibPrices.map((p, i) => (
        <ReferenceLine key={`fl${i}`} segment={flat(fibSpan[0], fibSpan[1], p)} stroke={fibColors[i]} strokeWidth={1} />
      ))}
      {pivotPrices.map((p, i) => (
        <ReferenceLine key={`pl${i}`} segment={flat(pivotSpan[0], pivotSpan[1], p)} stroke="#9598a1" strokeWidth={1} />
      ))}
      {channelLines.map((s, i) => (
        <ReferenceLine key={`ch${i}`} segment={[{ x: s[0][0], y: s[0][1] }, { x: s[1][0], y: s[1][1] }]} stroke="#555862" strokeWidth={1} />
      ))}

      {[upperBand3, upperBand2, upperBand1].map((b, i) => (
        <Line key={`ub${i}`} data={toXY(b)} dataKey="v" type="monotone" stroke="#8a2323" strokeWidth={1} dot={false} activeDot={false} isAnimationActive={false} />
      ))}
      {[lowerBand1, lowerBand2, lowerBand3].map((b, i) => (
        <Line key={`lb${i}`} data={toXY(b)} dataKey="v" type="monotone" stroke="#2f6b33" strokeWidth={1} dot={false} activeDot={false} isAnimationActive={false} />
      ))}
      {basisRuns.map((r, i) => (
        <Line key={`bs${i}`} data={r.data} dataKey="v" type="monotone" stroke={r.color} strokeWidth={2} dot={false} activeDot={false} isAnimationActive={false} />
      ))}
      {maRuns.map((r, i) => (
        <Line key={`ma${i}`} data={r.data} dataKey="v" type="monotone" stroke={r.color} strokeOpacity={0.85} strokeWidth={4.5} dot={false} activeDot={false} isAnimationActive={false} />
      ))}

      {levelPrices.map((p, i) => (
        <ReferenceLine key={`lv${i}`} segment={flat(levelSpan[0], levelSpan[1], p)} stroke={levelColors[i]} strokeWidth={2} />
      ))}
      {stubPrices.map((p, i) => (
        <ReferenceLine key={`st${i}`} segment={flat(stubSpan[0], stubSpan[1], p)} stroke={stubColors[i]} strokeWidth={2} />
      ))}
      {dottedPrices.map((p, i) => (
        <ReferenceLine key={`dt${i}`} segment={flat(-0.7, mainXDomain[1], p)} stroke={dottedStyle[i].c} strokeWidth={dottedStyle[i].w} strokeDasharray={dottedStyle[i].d} />
      ))}
      {redMarks.map((m, i) => (
        <ReferenceLine key={`rm${i}`} segment={[{ x: m[0], y: m[1] }, { x: m[0], y: m[2] }]} stroke="#f23645" strokeWidth={1} />
      ))}
      {tealMarks.map((m, i) => (
        <ReferenceLine key={`tm${i}`} segment={[{ x: m[0], y: m[1] }, { x: m[0], y: m[2] }]} stroke="#00e676" strokeWidth={1} />
      ))}

      <Bar dataKey={(d: any) => [d.low, d.high]} barSize={4} shape={<CandleShape />} isAnimationActive={false} />

      <Line data={toXY(projectionPath)} dataKey="v" type="monotone" stroke="#ff9800" strokeWidth={2} strokeDasharray="3 3" dot={false} activeDot={false} isAnimationActive={false} />
      <ReferenceLine segment={[{ x: arrowHead[0][0], y: arrowHead[0][1] }, { x: arrowHead[1][0], y: arrowHead[1][1] }]} stroke="#ff9800" strokeWidth={1.5} strokeDasharray="2 2" />
      <ReferenceLine segment={[{ x: arrowHead[1][0], y: arrowHead[1][1] }, { x: arrowHead[2][0], y: arrowHead[2][1] }]} stroke="#ff9800" strokeWidth={1.5} strokeDasharray="2 2" />

      {fibPrices.map((p, i) => (
        <ReferenceDot key={`fd${i}`} x={fibSpan[0]} y={p} r={1} fill="none" stroke="none"
          label={{ value: `${fibRatios[i]} (${p.toFixed(3)})`, position: 'left', offset: 9, fill: fibColors[i], fontSize: 13 }} />
      ))}
      {pivotPrices.map((p, i) => (
        <ReferenceDot key={`pd${i}`} x={pivotSpan[0]} y={p} r={1} fill="none" stroke="none"
          label={{ value: `${pivotNames[i]} (${String(p)})`, position: 'left', offset: 15, fill: '#8f929b', fontSize: 13 }} />
      ))}
      {levelPrices.map((p, i) => (
        <ReferenceDot key={`ld${i}`} x={levelSpan[1]} y={p} r={1} fill="none" stroke="none"
          label={{ value: `(${p.toFixed(3)})`, position: 'right', offset: 11, fill: levelText[i], fontSize: 13 }} />
      ))}
      <ReferenceDot x={mainXDomain[1]} y={closes[closes.length - 1]} r={1} fill="none" stroke="none" label={(p: any) => <PriceTag {...p} />} />
    </ComposedChart>
  );
}

function VolumeChart() {
  // axis ids sort so that the volume scale sits next to the plot and the oscillator scale outside it
  return (
    <ComposedChart width={1272} height={179} data={candles} margin={{ top: 0, right: 0, bottom: 0, left: 0 }}>
      <XAxis type="number" dataKey="x" domain={mainXDomain} allowDataOverflow hide />
      <YAxis yAxisId="a_vol" orientation="right" width={85} domain={[-0.89, 78.67]} allowDataOverflow ticks={[20, 40, 60]}
        tickFormatter={(v: number) => `${v} K`} tick={{ fill: AXIS_TEXT, fontSize: 12 }} axisLine={false} tickLine={false} tickSize={0} tickMargin={11} />
      <YAxis yAxisId="b_osc" orientation="right" width={71} domain={[-73.6, 89.1]} allowDataOverflow ticks={[-40, 0, 40, 80]}
        tickFormatter={(v: number) => (v < 0 ? `\u2212${Math.abs(v).toFixed(3)}` : v.toFixed(3))} tick={{ fill: AXIS_TEXT, fontSize: 12 }} axisLine={false} tickLine={false} tickSize={0} tickMargin={12} />
      <Bar yAxisId="a_vol" dataKey="vol" barSize={3} isAnimationActive={false}>
        {candles.map((c, i) => (
          <Cell key={i} fill={c.close >= c.open ? '#2f6e33' : '#7e2a2a'} />
        ))}
      </Bar>
      <ReferenceLine yAxisId="b_osc" segment={flat(-0.6, 169, 0)} stroke="#9c3fc0" strokeWidth={2} />
      {oscRuns.map((r, i) => (
        <Line key={`os${i}`} yAxisId="b_osc" data={r.data} dataKey="v" type="linear" stroke={r.color} strokeWidth={3} dot={false} activeDot={false} isAnimationActive={false} />
      ))}
    </ComposedChart>
  );
}

function StochChart() {
  const lines = [
    { d: stochSlowK, c: '#43a047' },
    { d: stochSlowD, c: '#e53935' },
    { d: stochFastK, c: '#43a047' },
    { d: stochFastD, c: '#e53935' },
  ];
  return (
    <ComposedChart width={1272} height={154} margin={{ top: 0, right: 0, bottom: 0, left: 0 }}>
      <XAxis type="number" dataKey="x" domain={stochXDomain} allowDataOverflow ticks={timeTickPos} interval={0}
        tick={<TimeTick />} axisLine={false} tickLine={false} tickSize={0} tickMargin={0} height={28} />
      <YAxis yAxisId="left" orientation="left" width={60} domain={[-11.36, 113.1]} allowDataOverflow ticks={[0, 40, 80]}
        tickFormatter={(v: number) => v.toFixed(2)} tick={{ fill: AXIS_TEXT, fontSize: 12.5 }} axisLine={false} tickLine={false} tickSize={0} tickMargin={11} />
      <YAxis yAxisId="right" orientation="right" width={156} domain={[8.82, 101.5]} allowDataOverflow ticks={[25, 50, 75, 100]}
        tickFormatter={(v: number) => v.toFixed(2)} tick={{ fill: AXIS_TEXT, fontSize: 12.5 }} axisLine={false} tickLine={false} tickSize={0} tickMargin={12} />
      <ReferenceLine yAxisId="left" segment={flat(0, stochXDomain[1], 80)} stroke="#f23645" strokeWidth={1} />
      <ReferenceLine yAxisId="left" segment={flat(0, stochXDomain[1], 50)} stroke="#787b86" strokeWidth={1} strokeDasharray="4 4" />
      <ReferenceLine yAxisId="left" segment={flat(0, stochXDomain[1], 20)} stroke="#4caf50" strokeWidth={1} />
      {lines.map((l, i) => (
        <Line key={`sc${i}`} yAxisId="left" data={toXY(l.d)} dataKey="v" type="monotone" stroke={l.c} strokeWidth={1} dot={false} activeDot={false} isAnimationActive={false} />
      ))}
    </ComposedChart>
  );
}

const hLine = (top: number) => (
  <div style={{ position: 'absolute', left: 10, top, width: 1274, height: 1, background: '#2e2e2e' }} />
);

const circleBtn = (left: number, ch: string) => (
  <div style={{ position: 'absolute', left: left - 9, top: 1245, width: 18, height: 18, borderRadius: 9, background: '#2a2a2a', color: '#8a8a8a', fontSize: 10, display: 'flex', alignItems: 'center', justifyContent: 'center' }}>
    {ch}
  </div>
);

export default function App() {
  return (
    <div style={{ position: 'relative', width: 1294, height: 1328, background: '#1e1e1e', fontFamily: FONT, overflow: 'hidden' }}>
      <style>{'body{margin:0;background:#1e1e1e}'}</style>
      <div style={{ position: 'absolute', left: 10, top: 7, fontSize: 12, fontWeight: 600, color: '#dcdcdc', whiteSpace: 'nowrap' }}>
        Tickmill created with TradingView.com, Apr 22, 2026 08:34 UTC+1
      </div>

      <div style={{ position: 'absolute', left: 10, top: 27, width: 1274, height: 1241, background: '#000', border: '1px solid #2e2e2e', boxSizing: 'border-box' }} />
      {hLine(60)}
      {hLine(900)}
      {hLine(1080)}
      {hLine(1113)}

      <div style={{ position: 'absolute', left: 371, top: 71, display: 'flex', flexDirection: 'column', gap: 2 }}>
        {[tableHead, tableRow].map((row, r) => (
          <div key={r} style={{ display: 'flex', gap: 1 }}>
            {row.map((t, c) => (
              <div key={c} style={{ width: tableWidths[c], height: 25, background: r === 0 ? '#3a3e48' : rowBgs[c], color: '#e6e6e6', fontSize: 14, display: 'flex', alignItems: 'center', justifyContent: 'center' }}>
                {t}
              </div>
            ))}
          </div>
        ))}
      </div>

      <div style={{ position: 'absolute', left: 555, top: 444, fontSize: 76, lineHeight: '76px', color: 'rgba(170,170,170,0.6)' }}>4h</div>

      <div style={{ position: 'absolute', left: 12, top: 61 }}>
        <MainChart />
      </div>
      <div style={{ position: 'absolute', left: 12, top: 901 }}>
        <VolumeChart />
      </div>
      <div style={{ position: 'absolute', left: 12, top: 1118, width: 1272, height: 150, overflow: 'hidden' }}>
        <div style={{ position: 'absolute', left: 0, top: -4 }}>
          <StochChart />
        </div>
      </div>

      {circleBtn(40, 'Z')}
      {circleBtn(1173, 'A')}
      {circleBtn(1250, 'B')}

      <svg style={{ position: 'absolute', left: 12, top: 1290 }} width={32} height={17} viewBox="0 0 32 17">
        <path d="M0 0 H12 V17 H6 V6 H0 Z" fill="#fff" />
        <circle cx={17} cy={3.5} r={3.5} fill="#fff" />
        <path d="M24 0 H32 L25 17 H17 Z" fill="#fff" />
      </svg>
      <div style={{ position: 'absolute', left: 48, top: 1285, fontSize: 20, fontWeight: 700, color: '#fff', letterSpacing: -0.3 }}>TradingView</div>
    </div>
  );
}
